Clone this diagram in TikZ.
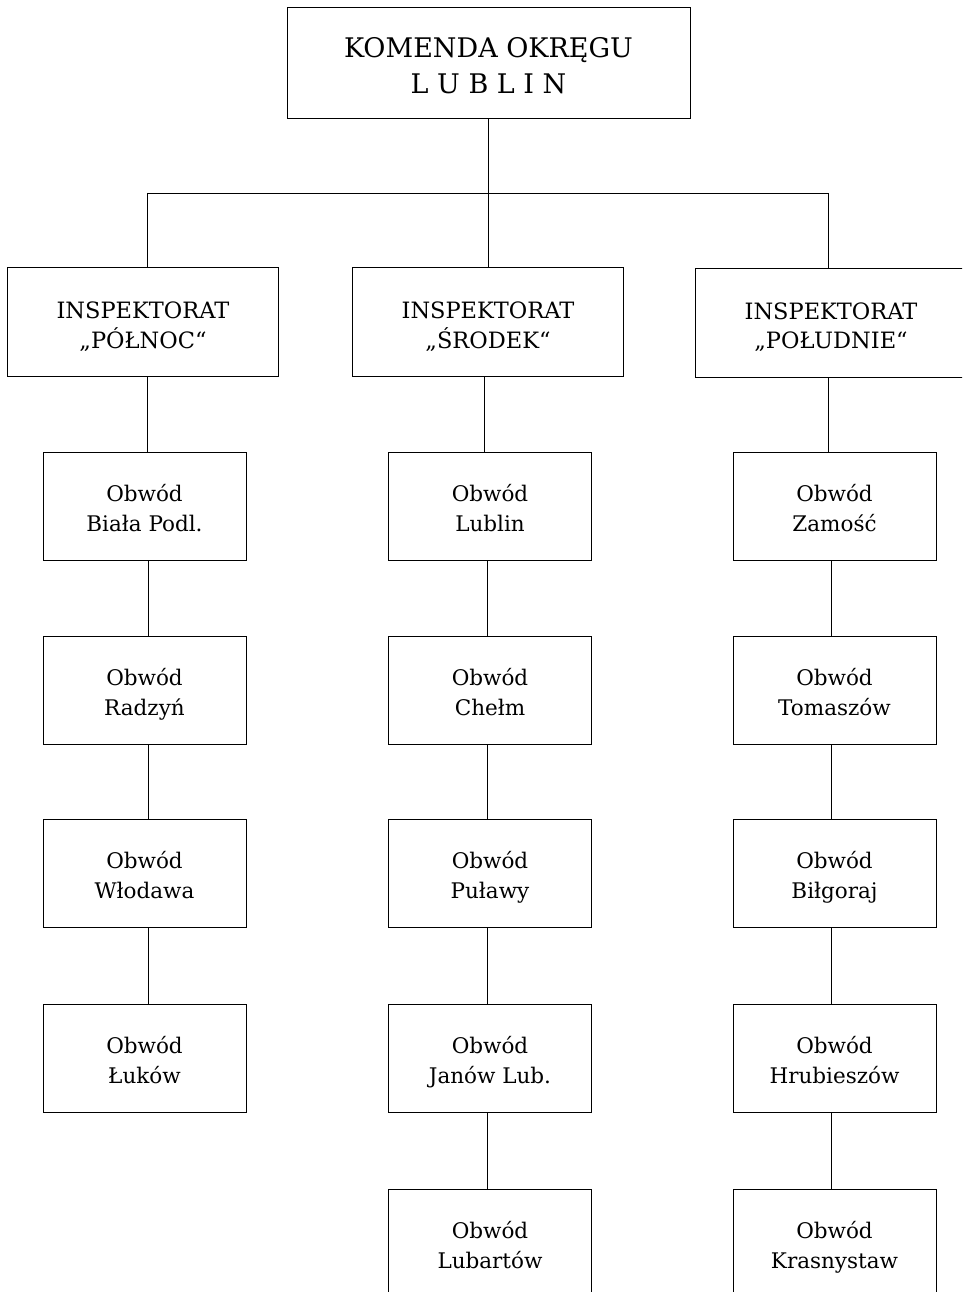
\documentclass[tikz,border=0pt]{standalone}
\usepackage{fontspec}
\setmainfont{DejaVu Serif}
\newcommand\twolines[3]{\raisebox{#3}[\height][\depth]{\begin{tabular}{@{}c@{}}#1\\#2\end{tabular}}}
\begin{document}
\begin{tikzpicture}[x=1pt,y=-1pt,
  box/.style={draw, line width=0.9pt, inner sep=0pt, align=center},
  topbox/.style={box, minimum width=403pt, minimum height=111pt, font=\fontsize{27}{36}\selectfont},
  inspbox/.style={box, minimum width=271pt, minimum height=109pt, font=\fontsize{22.5}{29}\selectfont},
  obbox/.style={box, minimum width=203pt, minimum height=108pt, font=\fontsize{21.5}{30}\selectfont},
  conn/.style={line width=0.9pt}]
\useasboundingbox (0,0) rectangle (962,1292);
\clip (0,0) rectangle (962,1292);
\fill[white] (0,0) rectangle (962,1292);
% top
\node[topbox] (top) at (488.5,62.5) {\twolines{KOMENDA OKRĘGU}{L U B L I N}{-6pt}};
% inspektorates
\node[inspbox] (i1) at (143,321.5) {\twolines{INSPEKTORAT}{„PÓŁNOC“}{-6pt}};
\node[inspbox] (i2) at (488,321.5) {\twolines{INSPEKTORAT}{„ŚRODEK“}{-6pt}};
\node[inspbox] (i3) at (831,322.5) {\twolines{INSPEKTORAT}{„POŁUDNIE“}{-6pt}};
% branch
\coordinate (j) at (488.5,193);
\coordinate (jl) at (147,193);
\coordinate (jr) at (828,193);
\draw[conn] (top.south) -- (j);
\draw[conn] (jl) -- (jr);
\draw[conn] (jl) -- (jl |- i1.north);
\draw[conn] (j) -- (j |- i2.north);
\draw[conn] (jr) -- (jr |- i3.north);
% left column
\node[obbox] (a1) at (144.5,506) {\twolines{Obwód}{Biała Podl.}{-4pt}};
\node[obbox] (a2) at (144.5,690.5) {\twolines{Obwód}{Radzyń}{-4pt}};
\node[obbox] (a3) at (144.5,873.5) {\twolines{Obwód}{Włodawa}{-4pt}};
\node[obbox] (a4) at (144.5,1058) {\twolines{Obwód}{Łuków}{-4pt}};
% middle column
\node[obbox] (b1) at (490,506) {\twolines{Obwód}{Lublin}{-4pt}};
\node[obbox] (b2) at (490,690.5) {\twolines{Obwód}{Chełm}{-4pt}};
\node[obbox] (b3) at (490,873.5) {\twolines{Obwód}{Puławy}{-4pt}};
\node[obbox] (b4) at (490,1058) {\twolines{Obwód}{Janów Lub.}{-4pt}};
\node[obbox] (b5) at (490,1243) {\twolines{Obwód}{Lubartów}{-4pt}};
% right column
\node[obbox] (c1) at (834.5,506) {\twolines{Obwód}{Zamość}{-4pt}};
\node[obbox] (c2) at (834.5,690.5) {\twolines{Obwód}{Tomaszów}{-4pt}};
\node[obbox] (c3) at (834.5,873.5) {\twolines{Obwód}{Biłgoraj}{-4pt}};
\node[obbox] (c4) at (834.5,1058) {\twolines{Obwód}{Hrubieszów}{-4pt}};
\node[obbox] (c5) at (834.5,1243) {\twolines{Obwód}{Krasnystaw}{-4pt}};
% connectors
\draw[conn] ([xshift=4pt]i1.south) -- ([xshift=2.5pt]a1.north);
\draw[conn] ([xshift=3.5pt]a1.south) -- ([xshift=3.5pt]a2.north);
\draw[conn] ([xshift=3.5pt]a2.south) -- ([xshift=3.5pt]a3.north);
\draw[conn] ([xshift=3.5pt]a3.south) -- ([xshift=3.5pt]a4.north);
\draw[conn] ([xshift=-4pt]i2.south) -- ([xshift=-6pt]b1.north);
\draw[conn] ([xshift=-2.5pt]b1.south) -- ([xshift=-2.5pt]b2.north);
\draw[conn] ([xshift=-2.5pt]b2.south) -- ([xshift=-2.5pt]b3.north);
\draw[conn] ([xshift=-2.5pt]b3.south) -- ([xshift=-2.5pt]b4.north);
\draw[conn] ([xshift=-2.5pt]b4.south) -- ([xshift=-2.5pt]b5.north);
\draw[conn] ([xshift=-3pt]i3.south) -- ([xshift=-6.5pt]c1.north);
\draw[conn] ([xshift=-3pt]c1.south) -- ([xshift=-3pt]c2.north);
\draw[conn] ([xshift=-3pt]c2.south) -- ([xshift=-3pt]c3.north);
\draw[conn] ([xshift=-3pt]c3.south) -- ([xshift=-3pt]c4.north);
\draw[conn] ([xshift=-3pt]c4.south) -- ([xshift=-3pt]c5.north);
\end{tikzpicture}
\end{document}
